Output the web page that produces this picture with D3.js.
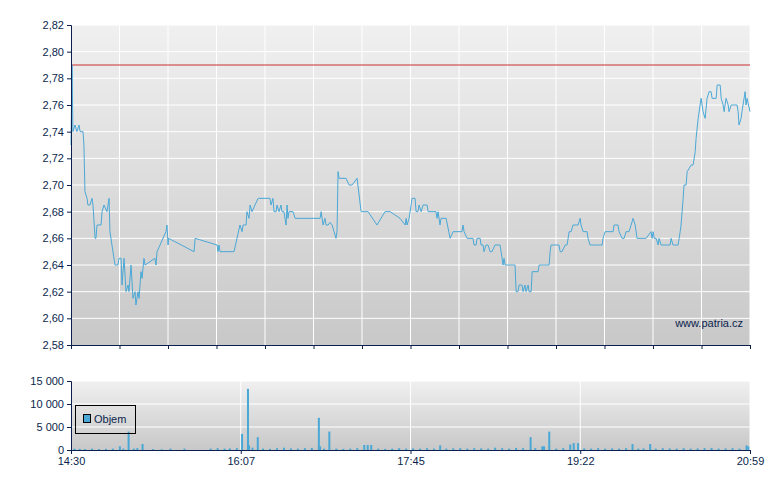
<!DOCTYPE html>
<html><head><meta charset="utf-8">
<script src="https://cdn.jsdelivr.net/npm/d3@7"></script>
<style>body{margin:0;background:#fff}text{font-family:"Liberation Sans",Arial,sans-serif;font-size:11px;fill:#0a1f4d}</style>
</head><body><svg id="c" width="780" height="490"></svg>
<script>
// minutes after 14:30, price
const priceMinutes = [0,0.6,1.1,2.3,3.4,4.6,5.2,6.9,7.4,8.0,9.2,9.7,10.9,12.0,12.6,13.8,14.3,14.9,17.2,17.8,18.9,20.6,21.8,22.3,25.2,26.9,27.5,28.7,29.2,30.4,31.5,32.7,33.2,34.4,35.5,36.7,37.2,38.4,39.0,40.1,40.7,41.8,42.4,48.1,48.7,49.3,54.4,55.0,55.6,55.9,70.5,71.1,83.7,84.2,84.8,85.4,93.4,96.8,98.0,98.6,100.3,100.8,102.0,102.6,103.7,105.4,107.2,114.0,114.6,115.7,116.3,117.5,118.0,119.2,120.3,120.9,122.0,123.2,123.8,124.3,124.9,127.2,128.4,142.7,143.3,144.4,145.5,146.1,147.3,148.4,149.6,150.7,151.8,152.4,153.0,153.6,157.6,159.3,161.0,163.9,166.2,170.2,175.3,179.9,182.8,188.5,191.4,192.0,192.5,193.7,195.4,197.1,197.7,198.8,199.4,200.6,201.7,204.0,204.6,209.1,209.7,210.3,211.4,212.0,214.9,217.2,218.9,224.0,224.6,225.2,226.9,230.3,230.9,232.1,232.6,234.4,234.9,236.1,236.6,237.8,238.9,240.1,241.2,242.9,245.8,246.4,247.0,247.5,248.1,248.7,250.4,254.4,255.0,256.1,256.7,258.4,259.0,260.1,260.7,261.9,262.4,263.6,264.2,267.6,268.2,270.5,273.9,274.5,275.0,279.6,280.2,281.3,283.1,284.2,285.4,286.5,287.6,290.5,291.7,292.2,293.4,295.7,296.2,297.4,304.3,304.8,306.0,310.6,311.1,313.4,314.0,315.7,316.9,318.0,319.7,320.9,322.0,323.2,324.3,329.5,332.3,332.9,333.5,334.1,335.2,336.4,336.9,338.1,343.2,343.8,344.9,347.8,348.4,349.0,349.5,350.7,351.2,352.4,353.0,355.3,356.4,357.6,358.1,359.3,360.4,361.0,362.1,363.3,364.4,365.6,366.7,367.3,369.6,370.2,371.9,372.5,373.6,374.2,374.7,375.3,376.5,377.0,378.2,381.6,382.2,382.7,383.9,384.4,386.2,386.7,387.3,389];
const priceValues = [2.73,2.79,2.74,2.745,2.74,2.745,2.74,2.74,2.73,2.695,2.69,2.685,2.685,2.69,2.685,2.66,2.66,2.67,2.67,2.68,2.685,2.68,2.69,2.665,2.64,2.64,2.645,2.645,2.625,2.645,2.62,2.625,2.62,2.64,2.615,2.62,2.61,2.62,2.615,2.635,2.63,2.645,2.64,2.645,2.64,2.65,2.665,2.67,2.655,2.66,2.65,2.66,2.655,2.65,2.655,2.65,2.65,2.67,2.665,2.67,2.67,2.68,2.675,2.685,2.68,2.685,2.69,2.69,2.685,2.69,2.68,2.68,2.685,2.68,2.685,2.68,2.68,2.67,2.685,2.675,2.68,2.68,2.675,2.675,2.68,2.67,2.675,2.67,2.67,2.672,2.67,2.665,2.66,2.665,2.71,2.705,2.705,2.7,2.7,2.705,2.68,2.68,2.67,2.68,2.68,2.675,2.67,2.675,2.67,2.675,2.69,2.69,2.68,2.68,2.685,2.68,2.685,2.685,2.68,2.68,2.675,2.68,2.67,2.675,2.675,2.66,2.665,2.665,2.67,2.665,2.66,2.66,2.655,2.655,2.66,2.66,2.655,2.655,2.65,2.655,2.655,2.65,2.65,2.655,2.655,2.65,2.645,2.64,2.645,2.64,2.64,2.64,2.62,2.62,2.625,2.625,2.62,2.625,2.62,2.625,2.62,2.62,2.635,2.635,2.64,2.64,2.64,2.65,2.655,2.655,2.65,2.65,2.655,2.655,2.665,2.665,2.67,2.67,2.675,2.67,2.665,2.665,2.66,2.655,2.655,2.66,2.665,2.665,2.67,2.67,2.665,2.66,2.66,2.665,2.665,2.67,2.675,2.67,2.66,2.66,2.665,2.66,2.665,2.66,2.66,2.655,2.66,2.655,2.655,2.66,2.655,2.655,2.66,2.665,2.67,2.69,2.7,2.7,2.71,2.715,2.715,2.725,2.735,2.75,2.76,2.765,2.755,2.75,2.765,2.77,2.77,2.765,2.765,2.775,2.775,2.765,2.76,2.755,2.76,2.765,2.76,2.755,2.76,2.76,2.755,2.745,2.75,2.755,2.77,2.76,2.765,2.755];
const referencePrice = 2.79;
const volMinutes = [2,5,8,12,16,20,24,28,30,33,36,38,41,47,52,57,65,80,84,88,91,95,98,101.4,102,104,107,110,114,118,122,126,130,134,138,142,142.7,145,148,152,156,160,164,168,170,172,176,180,184,188,192,196,200,204,208,211.5,215,219,223,227,231,235,239,243,247,251,255,259,263.3,266,270,271,274,278,282,286,288,290.5,294,298,302,306,310,314,318,321.7,325,328,331.8,335,339,343,347,351,355,359,363,367,371,375,379,383,387,388];
const volValues = [300,250,200,300,200,250,300,800,300,4000,300,400,1300,200,150,300,300,300,400,300,350,400,3500,13300,1000,500,2800,300,250,400,500,350,300,400,450,7000,800,300,4000,300,250,300,400,1100,1100,1100,300,250,300,400,300,350,300,400,300,1000,300,350,400,300,400,350,300,500,400,300,450,400,2800,400,800,800,4000,300,400,1200,1500,1500,350,300,400,300,350,300,400,1300,300,350,1300,300,400,350,300,400,300,350,400,450,300,350,400,300,1000,800];
const priceTicks = [2.58,2.60,2.62,2.64,2.66,2.68,2.70,2.72,2.74,2.76,2.78,2.80,2.82];
const volTicks = [0,5000,10000,15000];
const timeLabels = ["14:30","16:07","17:45","19:22","20:59"];

const svg = d3.select("#c");
const L=71,R=750;
const x = d3.scaleLinear().domain([0,389]).range([L,R]);
const y = d3.scaleLinear().domain([2.58,2.82]).range([345,25]);
const yv = d3.scaleLinear().domain([0,15000]).range([450,381]);
const defs = svg.append("defs");
const g1 = defs.append("linearGradient").attr("id","bg").attr("x1",0).attr("y1",0).attr("x2",0).attr("y2",1);
g1.append("stop").attr("offset",0).attr("stop-color","#f0f0f0");
g1.append("stop").attr("offset",1).attr("stop-color","#c8c8c8");
svg.append("rect").attr("x",L).attr("y",25).attr("width",R-L).attr("height",320).attr("fill","url(#bg)");
svg.append("rect").attr("x",L).attr("y",381).attr("width",R-L).attr("height",69).attr("fill","url(#bg)");
const fmt = d => d.toFixed(2).replace(".",",");
// grids
svg.append("g").selectAll("line").data(priceTicks.slice(1)).join("line")
 .attr("x1",L).attr("x2",R).attr("y1",d=>y(d)).attr("y2",d=>y(d)).attr("stroke","#fff");
const xTicks = d3.range(1,15).map(i=>i*389/14);
svg.append("g").selectAll("line").data(xTicks).join("line")
 .attr("x1",d=>x(d)).attr("x2",d=>x(d)).attr("y1",25).attr("y2",345).attr("stroke","#fff");
svg.append("g").selectAll("line").data(volTicks.slice(1)).join("line")
 .attr("x1",L).attr("x2",R).attr("y1",d=>yv(d)).attr("y2",d=>yv(d)).attr("stroke","#fff");
const vGrid=[1,2,3,4].map(i=>i*389/4);
svg.append("g").selectAll("line").data(vGrid).join("line")
 .attr("x1",d=>x(d)).attr("x2",d=>x(d)).attr("y1",381).attr("y2",450).attr("stroke","#fff");
// reference line
svg.append("line").attr("x1",L).attr("x2",R).attr("y1",y(referencePrice)).attr("y2",y(referencePrice)).attr("stroke","#c83030");
// price line
const pts = priceMinutes.map((m,i)=>[m,priceValues[i]]);
svg.append("path").datum(pts).attr("fill","none").attr("stroke","#4aa8d6").attr("stroke-width",1)
 .attr("d",d3.line().x(d=>x(d[0])).y(d=>y(d[1])));
// volume bars
svg.append("g").selectAll("rect").data(volMinutes.map((m,i)=>[m,volValues[i]])).join("rect")
 .attr("x",d=>x(d[0])-1).attr("width",2).attr("y",d=>yv(d[1])).attr("height",d=>450-yv(d[1])).attr("fill","#4aa8d6");
// axes
const ay = svg.append("g").attr("transform",`translate(${L},0)`).call(d3.axisLeft(y).tickValues(priceTicks).tickFormat(fmt).tickSize(4));
const ax = svg.append("g").attr("transform","translate(0,345)").call(d3.axisBottom(x).tickValues([0,...xTicks]).tickFormat("").tickSize(4));
const avy = svg.append("g").attr("transform",`translate(${L},0)`).call(d3.axisLeft(yv).tickValues(volTicks).tickFormat(d=>d3.format(",")(d).replace(/,/g," ")).tickSize(4));
const avx = svg.append("g").attr("transform","translate(0,450)").call(d3.axisBottom(x).tickValues([0,...vGrid]).tickFormat((d,i)=>timeLabels[i]).tickSize(4));
svg.selectAll(".domain,.tick line").attr("stroke","#0a1f4d");
svg.selectAll(".tick text").style("font-family","Liberation Sans, Arial").style("font-size","11px").attr("fill","#0a1f4d");
// legend
svg.append("rect").attr("x",75.5).attr("y",405.5).attr("width",60).attr("height",28).attr("fill","none").attr("stroke","#000");
svg.append("rect").attr("x",83.5).attr("y",414.5).attr("width",7).attr("height",8).attr("fill","#4aa8d6").attr("stroke","#000");
svg.append("text").attr("x",94).attr("y",423).text("Objem");
svg.append("text").attr("x",743).attr("y",327).attr("text-anchor","end").text("www.patria.cz");
</script></body></html>
